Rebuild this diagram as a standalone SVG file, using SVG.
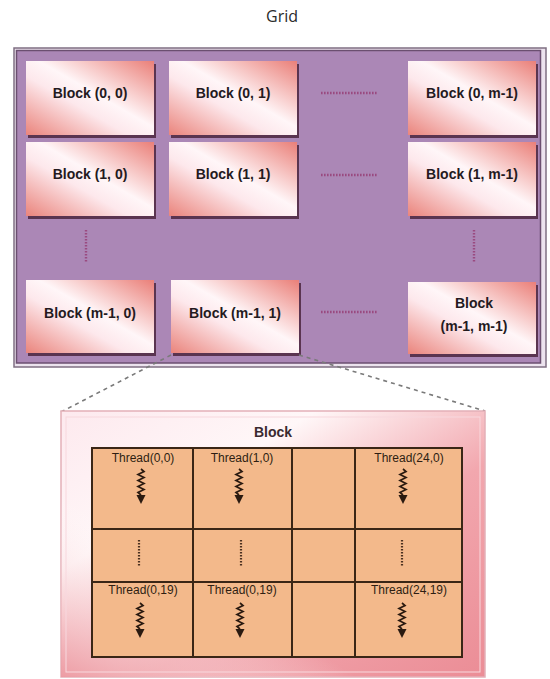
<svg xmlns="http://www.w3.org/2000/svg" width="550" height="679" viewBox="0 0 550 679">
<style>
.blk{fill:url(#bg)}
.sh{fill:#5a3450}
.bt{font-family:"Liberation Sans",Arial,sans-serif;font-weight:bold;font-size:14px;fill:#241a1e;text-anchor:middle}
.hd{stroke:#9a4a80;stroke-width:2.4;stroke-dasharray:1.6 1.4;fill:none}
.cell{fill:#f3b98b}
.gl{stroke:#3a2616;stroke-width:2;fill:none}
.tt{font-family:"Liberation Sans",Arial,sans-serif;font-size:12px;fill:#2e1e12;text-anchor:middle}
.sq{stroke:#2a1a10;stroke-width:1.7;fill:none}
.ah{fill:#2a1a10}
.td{stroke:#4a3020;stroke-width:2.2;stroke-dasharray:1.4 1.6;fill:none}
.cn{stroke:#7a7a7a;stroke-width:1.6;stroke-dasharray:4 4;fill:none}
</style>
<defs>
<linearGradient id="bg" x1="1" y1="0" x2="0" y2="1">
<stop offset="0" stop-color="#ea7f78"/>
<stop offset="0.45" stop-color="#fff6f8"/>
<stop offset="0.6" stop-color="#fde8ec"/>
<stop offset="1" stop-color="#ea847c"/>
</linearGradient>
<linearGradient id="ob" x1="0" y1="0" x2="1" y2="1">
<stop offset="0" stop-color="#fde9ee"/>
<stop offset="0.3" stop-color="#fff7f8"/>
<stop offset="0.6" stop-color="#f2a7ae"/>
<stop offset="1" stop-color="#eb8d96"/>
</linearGradient>
<linearGradient id="ob2" x1="0" y1="1" x2="1" y2="0">
<stop offset="0" stop-color="#ec98a0" stop-opacity="0.9"/>
<stop offset="0.35" stop-color="#fff" stop-opacity="0"/>
</linearGradient>
<g id="sqa">
<path class="sq" d="M0,0 l3,2.5 l-6,3 l6,3 l-6,3 l6,3 l-6,3 l6,3 l-6,3 l3,2.5"/>
<path class="ah" d="M-4.5,26 L4.5,26 L0,35 Z"/>
</g>
</defs>

<text x="282" y="22" font-family="'Open Sans','Liberation Sans',sans-serif" font-size="16" fill="#2a2a2a" text-anchor="middle">Grid</text>

<g id="grid">
<rect x="14" y="48" width="532" height="319" fill="#ece3ee" stroke="#7f6f82" stroke-width="1.5"/>
<rect x="16.5" y="50.5" width="524" height="312.5" fill="#ab87b6" stroke="#6b4f70" stroke-width="1.5"/>
</g>

<g id="block-0-0"><rect class="sh" x="28" y="64" width="128" height="74"/><rect class="blk" x="26" y="61" width="128" height="74"/><text class="bt" x="90" y="98">Block (0, 0)</text></g>
<g id="block-0-1"><rect class="sh" x="171" y="64" width="128" height="74"/><rect class="blk" x="169" y="61" width="128" height="74"/><text class="bt" x="233" y="98">Block (0, 1)</text></g>
<g id="block-0-m1"><rect class="sh" x="410" y="64" width="128" height="74"/><rect class="blk" x="408" y="61" width="128" height="74"/><text class="bt" x="472" y="98">Block (0, m-1)</text></g>

<g id="block-1-0"><rect class="sh" x="28" y="145" width="128" height="74"/><rect class="blk" x="26" y="142" width="128" height="74"/><text class="bt" x="90" y="179">Block (1, 0)</text></g>
<g id="block-1-1"><rect class="sh" x="171" y="145" width="128" height="74"/><rect class="blk" x="169" y="142" width="128" height="74"/><text class="bt" x="233" y="179">Block (1, 1)</text></g>
<g id="block-1-m1"><rect class="sh" x="410" y="145" width="128" height="74"/><rect class="blk" x="408" y="142" width="128" height="74"/><text class="bt" x="472" y="179">Block (1, m-1)</text></g>

<g id="block-m1-0"><rect class="sh" x="28" y="283" width="128" height="73"/><rect class="blk" x="26" y="280" width="128" height="73"/><text class="bt" x="90" y="318">Block (m-1, 0)</text></g>
<g id="block-m1-1"><rect class="sh" x="173" y="283" width="128" height="73"/><rect class="blk" x="171" y="280" width="128" height="73"/><text class="bt" x="235" y="318">Block (m-1, 1)</text></g>
<g id="block-m1-m1"><rect class="sh" x="410" y="285" width="128" height="72"/><rect class="blk" x="408" y="282" width="128" height="72"/><text class="bt" x="474" y="308">Block</text><text class="bt" x="474" y="331">(m-1, m-1)</text></g>

<g id="grid-dots">
<path class="hd" d="M321,93 H378 M321,175 H378 M321,312 H378"/>
<path class="hd" d="M86,230 V262 M474,230 V262"/>
</g>

<g id="connectors">
<path class="cn" d="M171,355 L61,412"/>
<path class="cn" d="M299,355 L485,411"/>
</g>

<g id="block-detail">
<rect x="61" y="411" width="424" height="266" fill="url(#ob)" stroke="#e3b0b8" stroke-width="1.5"/>
<rect x="61" y="411" width="424" height="266" fill="url(#ob2)"/>
<rect x="66" y="417" width="414" height="255" fill="none" stroke="#f8d8dd" stroke-width="1"/>
<text x="273" y="437" font-family="'Liberation Sans',Arial,sans-serif" font-weight="bold" font-size="14" fill="#3a2a30" text-anchor="middle">Block</text>

<g id="thread-table">
<rect class="cell" x="92" y="448" width="370" height="209"/>
<path class="gl" d="M92,448 H462 V657 H92 Z M193,448 V657 M292,448 V657 M355,448 V657 M92,529 H462 M92,582 H462"/>
</g>

<g id="thread-0-0"><text class="tt" x="143" y="462">Thread(0,0)</text><use href="#sqa" x="141" y="469"/></g>
<g id="thread-1-0"><text class="tt" x="242" y="462">Thread(1,0)</text><use href="#sqa" x="239" y="469"/></g>
<g id="thread-24-0"><text class="tt" x="409" y="462">Thread(24,0)</text><use href="#sqa" x="403" y="469"/></g>

<g id="thread-dots">
<path class="td" d="M139,540 V566 M241,540 V566 M402,540 V566"/>
</g>

<g id="thread-0-19"><text class="tt" x="143" y="594">Thread(0,19)</text><use href="#sqa" x="140" y="603"/></g>
<g id="thread-0-19b"><text class="tt" x="242" y="594">Thread(0,19)</text><use href="#sqa" x="240" y="603"/></g>
<g id="thread-24-19"><text class="tt" x="409" y="594">Thread(24,19)</text><use href="#sqa" x="402" y="603"/></g>
</g>
</svg>
